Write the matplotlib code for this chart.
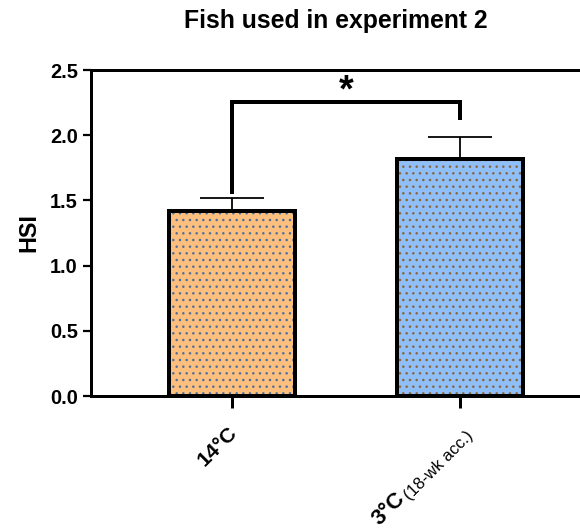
import matplotlib
matplotlib.use("Agg")
import matplotlib.pyplot as plt
import numpy as np
from matplotlib.font_manager import FontProperties

plt.rcParams['font.family'] = ['Liberation Sans', 'DejaVu Sans']

# ---- data ----
groups = ["14°C", "3°C"]
group_sub = ["", "(18-wk acc.)"]
means = [1.42, 1.82]
sem = [0.095, 0.165]
fill_colors = ["#FDBF7E", "#90BEF6"]
dot_colors = ["#4A6E9E", "#8A6436"]
yticks = [0.0, 0.5, 1.0, 1.5, 2.0, 2.5]
ytick_labels = ["0.0", "0.5", "1.0", "1.5", "2.0", "2.5"]
title = "Fish used in experiment 2"
ylabel = "HSI"
# significance bracket (data units)
sig_left_bottom = 1.565
sig_right_bottom = 2.13
sig_top = 2.255
sig_text = "*"

DPI = 80
W, H = 580, 531
fig = plt.figure(figsize=(W / DPI, H / DPI), dpi=DPI)
ax = fig.add_axes([91 / W, 1 - 396 / H, 1 - 91 / W, (396 - 70) / H])

x = np.arange(len(groups))
width = 0.55

ax.bar(x, means, width=width, color=fill_colors, edgecolor=dot_colors,
       linewidth=0, hatch='..', zorder=2)
ax.bar(x, means, width=width, fill=False, edgecolor='black',
       linewidth=3.6, zorder=3)
ax.errorbar(x, means, yerr=[np.zeros(len(sem)), sem], fmt='none',
            ecolor='black', elinewidth=1.6, capsize=29, capthick=1.6, zorder=1)

# bracket
ax.plot([x[0], x[0], x[1], x[1]],
        [sig_left_bottom, sig_top, sig_top, sig_right_bottom],
        color='black', linewidth=3.6, solid_joinstyle='miter', zorder=4)
ax.text((x[0] + x[1]) / 2, sig_top + 0.005, sig_text, ha='center', va='baseline',
        fontsize=34, fontweight='bold')

ax.set_xlim(-0.618, 1.526)
ax.set_ylim(0, 2.5)
ax.set_yticks(yticks)
ax.set_yticklabels(ytick_labels, fontsize=18, fontweight='bold')
ax.set_xticks(x)
ax.set_xticklabels([])

for side in ['left', 'bottom', 'top']:
    ax.spines[side].set_linewidth(2.7)
ax.spines['right'].set_visible(False)
ax.tick_params(axis='y', length=7, width=2, pad=5)
ax.tick_params(axis='x', length=11, width=2.7)

ax.set_ylabel(ylabel, fontsize=21, fontweight='bold')
ax.yaxis.set_label_coords((40 - 91) / (W - 91), 0.5)
ax.set_title(title, fontsize=22.3, fontweight='bold', pad=38)

# x tick labels (rotated, with small subscript part)
renderer = fig.canvas.get_renderer()
c45 = np.cos(np.deg2rad(45))
s45 = np.sin(np.deg2rad(45))
main_fs = 19
sub_fs = 15
trans = ax.get_xaxis_transform()
for i, (g, sub) in enumerate(zip(groups, group_sub)):
    if sub:
        off = (14, -41)
        ax.annotate(sub, xy=(x[i], 0), xycoords=trans, xytext=off,
                    textcoords='offset pixels', rotation=45, rotation_mode='anchor',
                    ha='right', va='baseline', fontsize=sub_fs)
        w, h, d = renderer.get_text_width_height_descent(
            sub, FontProperties(family='Liberation Sans', size=sub_fs), ismath=False)
        sub_shift = 4
        gap = 1
        px = off[0] - (w + gap) * c45 - sub_shift * s45
        py = off[1] - (w + gap) * s45 + sub_shift * c45
        ax.annotate(g, xy=(x[i], 0), xycoords=trans, xytext=(px, py),
                    textcoords='offset pixels', rotation=45, rotation_mode='anchor',
                    ha='right', va='baseline', fontsize=main_fs + 1, fontweight='bold')
    else:
        ax.annotate(g, xy=(x[i], 0), xycoords=trans, xytext=(6, -38),
                    textcoords='offset pixels', rotation=45, rotation_mode='anchor',
                    ha='right', va='baseline', fontsize=main_fs, fontweight='bold')

fig.savefig("out.png", dpi=DPI)
